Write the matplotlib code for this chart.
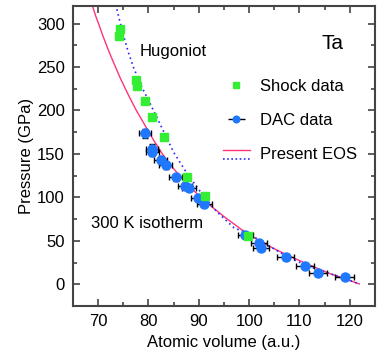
#!/usr/bin/env python3
"""Ta equation of state: shock / DAC data with present EOS curves."""

import matplotlib
matplotlib.use('Agg')
import matplotlib.pyplot as plt
from matplotlib.lines import Line2D

plt.rcParams['font.family'] = ['Liberation Sans', 'DejaVu Sans']

# shock (Hugoniot) data
shock_v = [74.3, 74.2, 77.6, 77.7, 79.3, 80.7, 83.0, 87.6, 91.2, 99.7]
shock_p = [293.7, 286.2, 235.6, 227.7, 210.7, 193.0, 169.2, 123.6, 102.1, 55.8]

# DAC data (300 K isotherm)
dac_v = [79.4, 80.7, 80.8, 82.4, 83.4, 85.4, 87.3, 88.0, 89.8, 91.1,
         99.2, 102.0, 102.3, 107.3, 111.1, 113.7, 119.0]
dac_p = [173.6, 156.1, 152.3, 143.2, 136.9, 123.3, 113.1, 110.6, 99.1, 92.9,
         56.6, 47.1, 42.2, 31.2, 21.5, 13.1, 8.3]
dac_verr = [1.2, 1.2, 1.2, 1.3, 1.3, 1.3, 1.4, 1.4, 1.4, 1.5,
            1.5, 1.6, 1.6, 1.7, 1.8, 1.8, 1.9]
dac_perr = [5, 5, 5, 4, 4, 4, 3, 3, 3, 3,
            2, 2, 2, 1, 1, 1, 1]

# present EOS, 300 K isotherm
iso_v = [68.9, 69.5, 70.2, 71.0, 72.0, 73.0, 74.5, 76.0, 77.5, 79.0, 81.0,
         83.0, 85.0, 87.0, 89.5, 92.0, 95.0, 98.5, 102.0, 105.5, 109.0,
         112.5, 116.0, 119.0, 121.9]
iso_p = [320, 309, 298, 285, 270, 256, 236, 218, 201, 186, 166,
         148, 133, 120, 105, 92, 78, 63, 50, 39.5, 30,
         21, 12.5, 6.5, 0.5]

# present EOS, Hugoniot
hug_v = [73.5, 74.2, 75.0, 76.0, 77.0, 78.5, 80.5, 82.5, 85.0, 87.5, 90.0,
         93.5, 97.0, 100.0, 104.0, 108.0, 112.0, 116.0, 119.0, 121.9]
hug_p = [322, 305, 287, 267, 250, 229, 206, 182, 152, 129, 109,
         84, 65, 58, 44, 30.5, 20.5, 12.5, 6.5, 0.5]

RED = '#ff3377'
BLUE = '#2a2aff'
GREEN = '#33ee33'
DAC_BLUE = '#1f78ff'
FRAME = '#444444'


class HandlerEOS:
    """red line with the dotted blue one just under it"""
    def legend_artist(self, legend, orig_handle, fontsize, handlebox):
        x0, y0 = handlebox.xdescent, handlebox.ydescent
        w, h = handlebox.width, handlebox.height
        l1 = Line2D([x0, x0 + w], [y0 + h * 0.75] * 2, color=RED, lw=1)
        l2 = Line2D([x0, x0 + w], [y0 + h * 0.05] * 2, color=BLUE, lw=1.2,
                    ls=(0, (1, 1.5)))
        handlebox.add_artist(l1)
        handlebox.add_artist(l2)
        return l1


fig = plt.figure(figsize=(3.78, 3.61), dpi=100)
ax = fig.add_axes([0.193, 0.152, 0.799, 0.831])

ax.plot(iso_v, iso_p, color=RED, lw=1, zorder=2)
ax.plot(hug_v, hug_p, color=BLUE, lw=1.2, ls=(0, (1, 2)), zorder=2)

ax.errorbar(dac_v, dac_p, xerr=dac_verr, yerr=dac_perr, fmt='none',
            ecolor='black', elinewidth=1, capsize=2, capthick=1, zorder=3)
dac = ax.plot(dac_v, dac_p, 'o', color=DAC_BLUE, ms=6.5, mec=DAC_BLUE,
              zorder=4)[0]
shock = ax.plot(shock_v, shock_p, 's', color=GREEN, ms=6, mec=GREEN,
                zorder=5)[0]

dac_handle = ax.errorbar([], [], xerr=[], fmt='o', color=DAC_BLUE, ms=6,
                         ecolor='black', elinewidth=1, capsize=2)
eos_handle = Line2D([], [], color=RED)

ax.legend([shock, dac_handle, eos_handle],
          ['Shock data', 'DAC data', 'Present EOS'],
          handler_map={eos_handle: HandlerEOS()},
          loc='upper left', bbox_to_anchor=(0.475, 0.78), frameon=False,
          fontsize=12, handlelength=1.6, handletextpad=0.6,
          labelspacing=1.15, borderaxespad=0, markerscale=0.8)

ax.text(116.5, 277, 'Ta', fontsize=15, ha='center', va='center')
ax.text(78.2, 267.5, 'Hugoniot', fontsize=12, va='center')
ax.text(68.5, 69.7, '300 K isotherm', fontsize=12, va='center')

ax.set_xlim(65, 125)
ax.set_ylim(-20, 320)
ax.set_xticks([70, 80, 90, 100, 110, 120])
ax.set_yticks([0, 50, 100, 150, 200, 250, 300])
ax.set_xticks(range(65, 126, 5), minor=True)
ax.set_yticks(range(-25, 321, 25), minor=True)
ax.set_xlabel('Atomic volume (a.u.)', fontsize=12, labelpad=4)
ax.set_ylabel('Pressure (GPa)', fontsize=12, labelpad=2)

ax.tick_params(which='both', direction='in', top=True, right=True,
               labelsize=12, color=FRAME, width=1.2)
ax.tick_params(which='major', length=5, pad=6)
ax.tick_params(which='minor', length=3)
for s in ax.spines.values():
    s.set_color(FRAME)
    s.set_linewidth(1.5)

fig.savefig('out.png', dpi=100)
